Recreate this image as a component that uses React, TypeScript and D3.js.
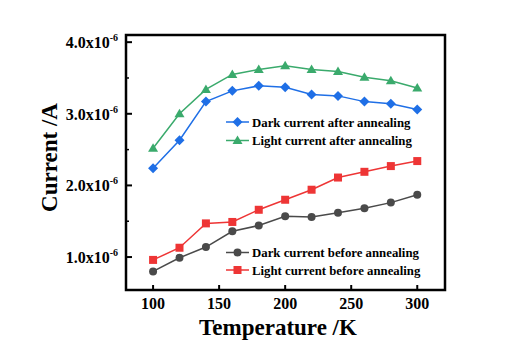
import React from "react";
import * as d3 from "d3";

const temps = [100, 120, 140, 160, 180, 200, 220, 240, 260, 280, 300];
const darkAfter = [2.24, 2.63, 3.17, 3.32, 3.39, 3.37, 3.27, 3.25, 3.17, 3.14, 3.06];
const lightAfter = [2.52, 3.0, 3.34, 3.55, 3.62, 3.67, 3.62, 3.59, 3.51, 3.46, 3.36];
const darkBefore = [0.8, 0.99, 1.14, 1.36, 1.44, 1.57, 1.56, 1.62, 1.68, 1.76, 1.87];
const lightBefore = [0.96, 1.13, 1.47, 1.49, 1.66, 1.8, 1.94, 2.11, 2.19, 2.27, 2.34];
const xTicks = [100, 150, 200, 250, 300];
const yTicks = [1, 2, 3, 4];
const yMinor = [1.5, 2.5, 3.5];

const seriesNames = [
  "Dark current after annealing",
  "Light current after annealing",
  "Dark current before annealing",
  "Light current before annealing",
];

const L = 126, R = 445, T = 35, B = 290;
const FONT = "'Liberation Serif', 'Times New Roman', serif";

export default function App() {
  const x = d3.scaleLinear().domain([79.5, 321]).range([L, R]);
  const y = d3.scaleLinear().domain([0.54, 4.1]).range([B, T]);
  const line = d3
    .line<number>()
    .x((_, i) => x(temps[i]))
    .y((d) => y(d));

  const series = [
    { name: seriesNames[0], data: darkAfter, color: "#1f6fe6", shape: "diamond" },
    { name: seriesNames[1], data: lightAfter, color: "#3aaa6c", shape: "triangle" },
    { name: seriesNames[2], data: darkBefore, color: "#4a4a4a", shape: "circle" },
    { name: seriesNames[3], data: lightBefore, color: "#ee3535", shape: "square" },
  ];

  const marker = (shape: string, cx: number, cy: number, color: string, key: string | number) => {
    if (shape === "diamond")
      return <path key={key} d={`M${cx},${cy - 5}L${cx + 5},${cy}L${cx},${cy + 5}L${cx - 5},${cy}Z`} fill={color} />;
    if (shape === "triangle")
      return <path key={key} d={`M${cx},${cy - 5}L${cx + 5},${cy + 3.5}L${cx - 5},${cy + 3.5}Z`} fill={color} />;
    if (shape === "circle") return <circle key={key} cx={cx} cy={cy} r={4} fill={color} />;
    return <rect key={key} x={cx - 4} y={cy - 4} width={8} height={8} fill={color} />;
  };

  const legendRows = [
    { s: series[0], y: 122 },
    { s: series[1], y: 140.5 },
    { s: series[2], y: 252.5 },
    { s: series[3], y: 270 },
  ];

  return (
    <svg width={516} height={349} style={{ position: "absolute", left: 0, top: 0, background: "#fff" }}>
      {series.map((s) => (
        <g key={s.name}>
          <path d={line(s.data) || ""} fill="none" stroke={s.color} strokeWidth={1.5} />
          {s.data.map((v, i) => marker(s.shape, x(temps[i]), y(v), s.color, i))}
        </g>
      ))}
      <rect x={L} y={T} width={R - L} height={B - T} fill="none" stroke="#000" strokeWidth={2.5} />
      {xTicks.map((t) => (
        <g key={t}>
          <line x1={x(t)} x2={x(t)} y1={B} y2={B - 5} stroke="#000" strokeWidth={2} />
          <text x={x(t)} y={B + 19} textAnchor="middle" fontFamily={FONT} fontWeight="bold" fontSize={16}>
            {t}
          </text>
        </g>
      ))}
      {yTicks.map((t) => (
        <g key={t}>
          <line x1={L} x2={L + 6} y1={y(t)} y2={y(t)} stroke="#000" strokeWidth={2} />
          <text x={L - 8} y={y(t) + 6} textAnchor="end" fontFamily={FONT} fontWeight="bold" fontSize={16}>
            {t.toFixed(1)}x10
            <tspan dy={-7} fontSize={10}>-6</tspan>
          </text>
        </g>
      ))}
      {yMinor.map((t) => (
        <line key={t} x1={L} x2={L + 3} y1={y(t)} y2={y(t)} stroke="#000" strokeWidth={1.5} />
      ))}
      <text x={278} y={335} textAnchor="middle" fontFamily={FONT} fontWeight="bold" fontSize={23}>
        Temperature /K
      </text>
      <text
        transform={`translate(57,${(T + B) / 2 - 5}) rotate(-90)`}
        textAnchor="middle"
        fontFamily={FONT}
        fontWeight="bold"
        fontSize={23}
      >
        Current /A
      </text>
      {legendRows.map((r) => (
        <g key={r.s.name}>
          <line x1={226} x2={249} y1={r.y} y2={r.y} stroke={r.s.color} strokeWidth={1.5} />
          {marker(r.s.shape, 237.5, r.y, r.s.color, "m")}
          <text x={252} y={r.y + 4.5} fontFamily={FONT} fontWeight="bold" fontSize={12.8}>
            {r.s.name}
          </text>
        </g>
      ))}
    </svg>
  );
}
